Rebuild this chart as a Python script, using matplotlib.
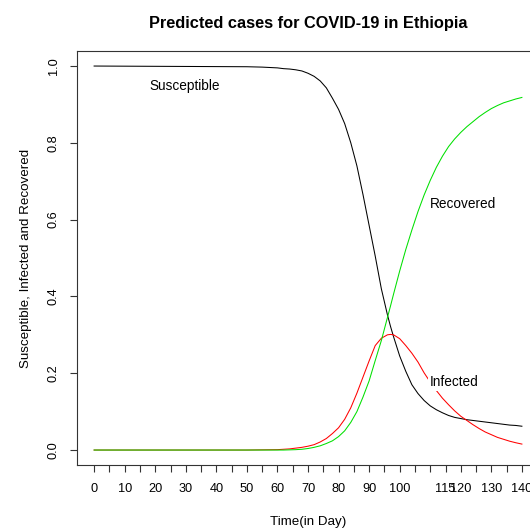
"""
SIR model output for Ethiopia: susceptible, infected and recovered fractions over time
"""
import matplotlib
matplotlib.use("Agg")
import matplotlib.pyplot as plt

plt.rcParams["font.family"] = ["Liberation Sans", "DejaVu Sans"]

# model output, fraction of population by day
days = [0, 50, 55, 60, 62, 64, 66, 68, 70, 72, 74, 76, 78, 80, 82, 84, 86, 88, 90,
        92, 94, 96, 97, 98, 100, 102, 104, 106, 108, 110, 112, 114, 116, 118, 120,
        122, 124, 126, 128, 130, 132, 134, 136, 138, 140]
susceptible = [0.9998, 0.998, 0.997, 0.995, 0.993, 0.992, 0.990, 0.987, 0.981, 0.973,
               0.961, 0.943, 0.916, 0.887, 0.850, 0.800, 0.740, 0.665, 0.585,
               0.505, 0.420, 0.352, 0.322, 0.295, 0.245, 0.205, 0.170, 0.147, 0.129,
               0.115, 0.105, 0.097, 0.090, 0.085, 0.082, 0.079, 0.077, 0.075, 0.073,
               0.071, 0.069, 0.067, 0.065, 0.064, 0.062]
infected = [0.0, 0.0, 0.0005, 0.001, 0.002, 0.003, 0.005, 0.007, 0.010, 0.014,
            0.021, 0.030, 0.043, 0.058, 0.080, 0.110, 0.148, 0.190, 0.232,
            0.272, 0.291, 0.300, 0.301, 0.300, 0.290, 0.272, 0.252, 0.229, 0.201,
            0.177, 0.155, 0.135, 0.118, 0.102, 0.088, 0.077, 0.066, 0.056, 0.047,
            0.040, 0.033, 0.028, 0.023, 0.019, 0.0155]
recovered = [0.0, 0.0, 0.0, 0.0, 0.0, 0.0005, 0.001, 0.002, 0.004, 0.007,
             0.011, 0.017, 0.024, 0.035, 0.050, 0.072, 0.100, 0.138, 0.180,
             0.233, 0.285, 0.345, 0.375, 0.406, 0.466, 0.522, 0.573, 0.621, 0.664,
             0.702, 0.736, 0.765, 0.790, 0.810, 0.827, 0.842, 0.855, 0.868, 0.879,
             0.889, 0.897, 0.904, 0.909, 0.914, 0.918]

x_ticks = list(range(0, 145, 5))
x_labels = [0, 10, 20, 30, 40, 50, 60, 70, 80, 90, 100, 115, 120, 130, 140]
y_ticks = [0.0, 0.2, 0.4, 0.6, 0.8, 1.0]

W, H = 530, 530
fig = plt.figure(figsize=(W / 100, H / 100), dpi=100)
# plot region runs past the right edge of the figure
ax = fig.add_axes([77 / W, 64.6 / H, 462 / W, 414.8 / H])

ax.plot(days, susceptible, color="black", lw=0.75)
ax.plot(days, infected, color="#ff0000", lw=0.75)
ax.plot(days, recovered, color="#00e000", lw=0.75)

ax.set_xlim(-5.6, 145.6)
ax.set_ylim(-0.04, 1.04)

ax.set_xticks(x_ticks)
ax.set_xticklabels([str(t) if t in x_labels else "" for t in x_ticks])
ax.set_yticks(y_ticks)
ax.set_yticklabels([f"{v:.1f}" for v in y_ticks], rotation=90, va="center")
ax.tick_params(axis="both", length=5, width=0.8, labelsize=9.2, color="#333333")
ax.tick_params(axis="x", pad=8)
ax.tick_params(axis="y", pad=7.5)
for side in ["left", "bottom", "top", "right"]:
    ax.spines[side].set_linewidth(0.8)
    ax.spines[side].set_color("#333333")

ax.text(29.6, 0.948, "Susceptible", fontsize=9.8, ha="center", va="center")
ax.text(120.7, 0.64, "Recovered", fontsize=9.8, ha="center", va="center")
ax.text(117.8, 0.176, "Infected", fontsize=9.8, ha="center", va="center",
        bbox=dict(facecolor="white", edgecolor="none", pad=1.0))

ax.set_title("Predicted cases for COVID-19 in Ethiopia", fontsize=11.8,
             fontweight="bold", pad=16)
ax.set_xlabel("Time(in Day)", fontsize=9.6, labelpad=15)
ax.set_ylabel("Susceptible, Infected and Recovered", fontsize=9.6, labelpad=11)

plt.savefig("out.png", dpi=100)
plt.close()
